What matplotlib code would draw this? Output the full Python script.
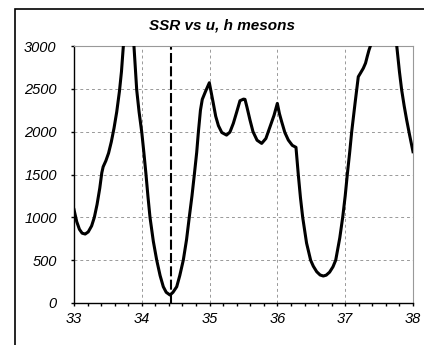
import matplotlib
matplotlib.use("Agg")
import matplotlib.pyplot as plt
from matplotlib.patches import Rectangle
from matplotlib.ticker import MultipleLocator

# SSR as a function of u for the h mesons
u = [33.00, 33.04, 33.08, 33.12, 33.165, 33.21, 33.26, 33.30, 33.34, 33.38,
     33.41, 33.43, 33.47, 33.51, 33.55, 33.59, 33.63, 33.67, 33.70, 33.727,
     33.76, 33.81, 33.86, 33.885, 33.925, 33.96, 34.00, 34.03, 34.062, 34.09,
     34.121, 34.17, 34.22, 34.27, 34.317, 34.36, 34.416, 34.46, 34.515, 34.56,
     34.612, 34.66, 34.70, 34.74, 34.775, 34.81, 34.835, 34.865, 34.892, 34.94,
     34.996, 35.05, 35.09, 35.13, 35.18, 35.25, 35.30, 35.35, 35.40, 35.448,
     35.50, 35.522, 35.55, 35.596, 35.64, 35.70, 35.768, 35.83, 35.891, 35.95,
     35.999, 36.03, 36.063, 36.11, 36.161, 36.22, 36.274, 36.308, 36.34, 36.373,
     36.43, 36.49, 36.53, 36.58, 36.63, 36.677, 36.72, 36.77, 36.82, 36.86,
     36.92, 36.963, 37.00, 37.031,
     37.065, 37.096, 37.145, 37.193, 37.23, 37.267, 37.30, 37.326, 37.35, 37.376,
     37.45, 37.57, 37.70, 37.759, 37.80, 37.833, 37.87, 37.907, 37.95, 38.00]
ssr = [1090, 950, 860, 815, 805, 830, 900, 1000, 1150, 1340,
       1520, 1590, 1660, 1750, 1880, 2040, 2230, 2470, 2700, 2991,
       3300, 3700, 3300, 2991, 2486, 2230, 1990, 1760, 1500, 1250,
       1000, 720, 500, 320, 190, 125, 93, 125, 190, 320,
       500, 740, 1000, 1250, 1500, 1760, 2000, 2250, 2377, 2470,
       2571, 2350, 2180, 2070, 1990, 1960, 1995, 2097, 2230, 2361,
       2380, 2377, 2290, 2135, 2000, 1900, 1863, 1920, 2057, 2190,
       2330, 2210, 2116, 1990, 1902, 1840, 1817, 1500, 1230, 1000,
       700, 500, 429, 365, 327, 315, 325, 360, 423, 500,
       760, 1000, 1250, 1500,
       1750, 2000, 2330, 2641, 2690, 2740, 2800, 2880, 2950, 3011,
       3400, 3900, 3400, 3011, 2700, 2486, 2300, 2135, 1960, 1766]

best_u = 34.43
title = "SSR vs u, h mesons"
xticks = [33, 34, 35, 36, 37, 38]
yticks = [0, 500, 1000, 1500, 2000, 2500, 3000]

fig = plt.figure(figsize=(4.24, 3.45), dpi=100)
fig.patch.set_facecolor("white")

# chart frame
fig.patches.append(Rectangle((15 / 424, -0.2), 1.2, 1.2 - 9 / 345,
                             transform=fig.transFigure, fill=False,
                             edgecolor="black", linewidth=1.2, clip_on=False))

ax = fig.add_axes([74 / 424, 1 - 303 / 345, (413 - 74) / 424, (303 - 46) / 345])
ax.plot(u, ssr, color="black", linewidth=2.2, solid_joinstyle="round", zorder=3)
ax.axvline(best_u, color="black", linewidth=1.5, dashes=(4.8, 1.6), zorder=2)

ax.set_xlim(33, 38)
ax.set_ylim(0, 3000)
ax.set_xticks(xticks)
ax.set_yticks(yticks)
ax.xaxis.set_minor_locator(MultipleLocator(0.2))

ax.grid(True, which="major", color="#999999", linestyle=(0, (3, 3)), linewidth=0.7)
ax.set_axisbelow(True)

for side in ("top", "right"):
    ax.spines[side].set_color("#999999")
    ax.spines[side].set_linewidth(0.8)
for side in ("left", "bottom"):
    ax.spines[side].set_color("black")
    ax.spines[side].set_linewidth(1.0)

tick_font = dict(family="Liberation Sans", style="italic", size=10.5)
ax.tick_params(axis="both", which="major", direction="out", length=2.5, width=1.0,
               color="black")
ax.tick_params(axis="y", which="major", pad=10)
ax.tick_params(axis="x", which="major", pad=4)
ax.tick_params(axis="x", which="minor", direction="out", length=2.5, width=1.0,
               color="black")
ax.set_xticklabels([str(t) for t in xticks], **tick_font)
ax.set_yticklabels([str(t) for t in yticks], **tick_font)

fig.text(222 / 424, 1 - 26 / 345, title, ha="center", va="center",
         family="Liberation Sans", style="italic", weight="bold", size=11)

fig.savefig("out.png", dpi=100)
